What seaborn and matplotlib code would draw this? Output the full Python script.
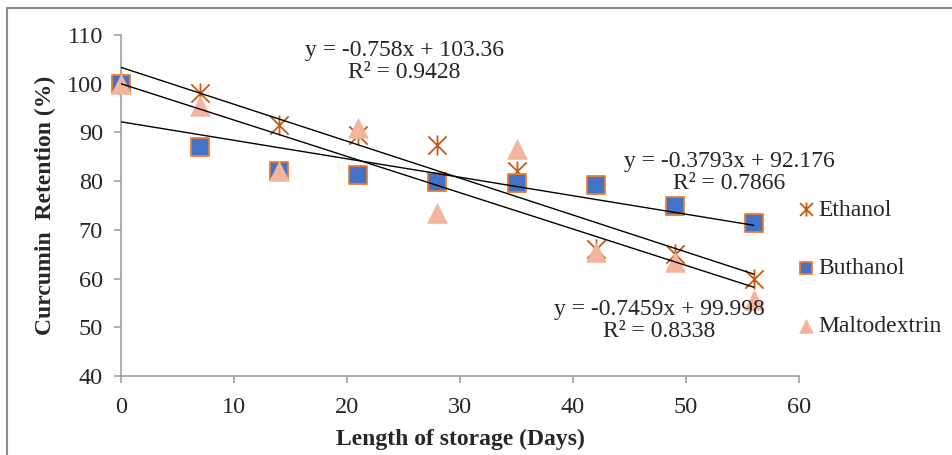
import numpy as np
import pandas as pd
import seaborn as sns
import matplotlib.pyplot as plt
from matplotlib.path import Path
from matplotlib.lines import Line2D

# data
days = [0, 7, 14, 21, 28, 35, 42, 49, 56]
ethanol = [100, 98, 91.5, 89.5, 87.5, 82, 66, 65, 60]
buthanol = [100, 87, 82, 81.3, 79.8, 79.7, 79.2, 74.8, 71.5]
maltodextrin = [100, 95.5, 82, 91, 73.5, 86.5, 65.5, 63.5, 55.5]

# trendline coefficients as printed on the chart
series = ["Ethanol", "Buthanol", "Maltodextrin"]
slopes = [-0.758, -0.3793, -0.7459]
intercepts = [103.36, 92.176, 99.998]
r2 = [0.9428, 0.7866, 0.8338]
slope_fmt = ["-0.758", "-0.3793", "-0.7459"]
icpt_fmt = ["103.36", "92.176", "99.998"]
label_pos = [(25.1, 104.6), (53.8, 81.8), (47.6, 51.4)]

sns.set_style("white")
plt.rcParams["font.family"] = ["Liberation Serif", "DejaVu Serif"]

fig = plt.figure(figsize=(9.52, 4.55), dpi=100)
ax = fig.add_axes([121 / 952, 1 - 376 / 455, (799 - 121) / 952, (376 - 35) / 455])

# excel-ish star: an X with a vertical bar through it
star = Path([(-1, -1), (1, 1), (-1, 1), (1, -1), (0, -1.1), (0, 1.1)],
            [Path.MOVETO, Path.LINETO] * 3)

sns.scatterplot(x=days, y=ethanol, marker=star, s=210, color="#C55A11",
                edgecolor="#C55A11", linewidth=1.3, ax=ax, label="Ethanol",
                clip_on=False, zorder=3)
sns.scatterplot(x=days, y=buthanol, marker="s", s=150, color="#4472C4",
                edgecolor="#ED7D31", linewidth=1.3, ax=ax, label="Buthanol",
                clip_on=False, zorder=4)
sns.scatterplot(x=days, y=maltodextrin, marker="^", s=200, color="#F4B5A0",
                edgecolor="#F4B5A0", linewidth=0.5, ax=ax, label="Maltodextrin",
                clip_on=False, zorder=5)

xs = np.array(days)
for m, b in zip(slopes, intercepts):
    sns.lineplot(x=xs, y=m * xs + b, color="black", linewidth=1.0, ax=ax,
                 legend=False, zorder=6)

for (px, py), sf, bf, r in zip(label_pos, slope_fmt, icpt_fmt, r2):
    ax.text(px, py, "y = " + sf + "x + " + bf + "\nR\u00b2 = " + f"{r:.4f}",
            ha="center", va="center", multialignment="center", fontsize=17,
            linespacing=1.1, zorder=7)

ax.set_xlim(0, 60)
ax.set_ylim(40, 110)
ax.set_xticks(range(0, 61, 10))
ax.set_yticks(range(40, 111, 10))
sns.despine(ax=ax)
for sp in ["left", "bottom"]:
    ax.spines[sp].set_color("#A0A0A0")
    ax.spines[sp].set_linewidth(1.2)
ax.tick_params(axis="both", direction="out", length=5, width=1.2,
               color="#A0A0A0", labelsize=17.5, pad=8, left=True, bottom=True)
ax.tick_params(axis="x", pad=10)

ax.set_xlabel("Length of storage (Days)", fontsize=17, fontweight="bold", labelpad=8)
ax.set_ylabel("Curcumin  Retention (%)", fontsize=17, fontweight="bold", labelpad=8)

ax.legend(loc="center left", bbox_to_anchor=(799 / 952, 1 - 268 / 455),
          bbox_transform=fig.transFigure, frameon=False, fontsize=17,
          handlelength=0.6, handletextpad=0.2, labelspacing=1.55, borderpad=0,
          borderaxespad=0, markerscale=0.7)

# outer chart border (top and left visible)
fig.add_artist(Line2D([7 / 952, 1.0], [1 - 8 / 455, 1 - 8 / 455],
                      transform=fig.transFigure, color="#8C8C8C", linewidth=1.5))
fig.add_artist(Line2D([7 / 952, 7 / 952], [0, 1 - 8 / 455],
                      transform=fig.transFigure, color="#8C8C8C", linewidth=1.5))

fig.savefig("out.png", dpi=100)
